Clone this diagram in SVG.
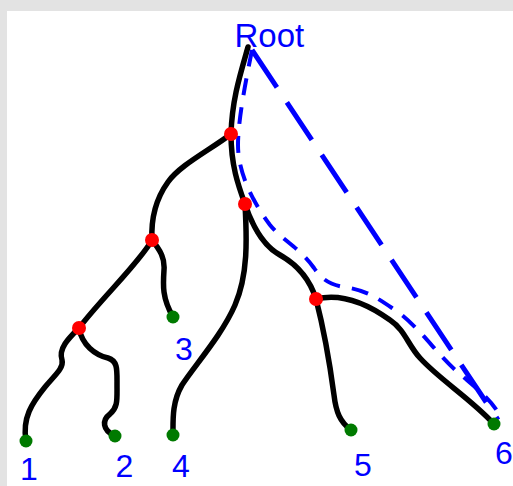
<svg xmlns="http://www.w3.org/2000/svg" width="513" height="486" viewBox="0 0 513 486">
<style>
.edge{fill:none;stroke:#000;stroke-width:5.5;stroke-linecap:round;stroke-linejoin:round}
.long{fill:none;stroke:#0000ff;stroke-width:5;stroke-dasharray:45 18}
.short{fill:none;stroke:#0000ff;stroke-width:4;stroke-dasharray:17 12}
.inner{fill:#ff0000}
.leaf{fill:#007a00}
.lbl{font-family:"Liberation Sans",Arial,sans-serif;font-size:32px;fill:#0000ff}
</style>
<rect x="0" y="0" width="513" height="486" fill="#e3e3e3"/>
<rect x="7" y="11" width="506" height="475" fill="#ffffff"/>
<g id="connectors">
<path class="edge" d="M248,47 C240,75 232,100 231,134"/>
<path class="edge" d="M231,134 C231,165 238,185 245,204"/>
<path class="edge" d="M231,134 C210,150 180,165 168,182 C155,200 151,220 152,240"/>
<path class="edge" d="M152,240 C160,250 165,258 164,270 C163,285 162,298 173,317"/>
<path class="edge" d="M152,240 C140,262 100,300 79,328"/>
<path class="edge" d="M79,328 C70,337 58,348 62,360 C64,368 55,375 45,387 C32,403 22,418 26,441"/>
<path class="edge" d="M79,328 C82,345 95,355 108,358 C118,361 117,370 117,385 C117,400 118,407 110,414 C102,420 102,430 115,436"/>
<path class="edge" d="M245,204 C247,240 248,275 235,305 C222,335 195,365 182,385 C172,402 173,420 173,435"/>
<path class="edge" d="M245,204 C252,225 262,245 280,255 C298,265 310,280 316,299"/>
<path class="edge" d="M316,299 C324,330 330,365 334,395 C336,412 340,422 351,430"/>
<path class="edge" d="M316,299 C340,293 365,302 390,320 C405,330 408,345 420,358 C440,380 470,398 494,424"/>
<path class="long" d="M252,50 L498,420"/>
<path class="short" d="M252,50 C246,80 238,120 238,145 C238,175 255,205 270,225 C282,240 300,248 314,268 C324,283 335,286 350,288 C370,292 380,300 398,312 C420,328 440,358 460,374 C476,388 492,400 500,416"/>
</g>
<g id="root"><text class="lbl" x="234.5" y="47" style="font-size:33px">Root</text></g>
<g id="nA"><circle class="inner" cx="231" cy="134" r="7"/></g>
<g id="nB"><circle class="inner" cx="245" cy="204" r="7"/></g>
<g id="nC"><circle class="inner" cx="152" cy="240" r="7"/></g>
<g id="nD"><circle class="inner" cx="79" cy="328" r="7"/></g>
<g id="nE"><circle class="inner" cx="316" cy="299" r="7"/></g>
<g id="leaf1"><circle class="leaf" cx="26" cy="441" r="6.5"/><text class="lbl" x="20" y="480">1</text></g>
<g id="leaf2"><circle class="leaf" cx="115" cy="436" r="6.5"/><text class="lbl" x="115.5" y="477">2</text></g>
<g id="leaf3"><circle class="leaf" cx="173" cy="317" r="6.5"/><text class="lbl" x="175" y="360">3</text></g>
<g id="leaf4"><circle class="leaf" cx="173" cy="435" r="6.5"/><text class="lbl" x="172" y="477">4</text></g>
<g id="leaf5"><circle class="leaf" cx="351" cy="430" r="6.5"/><text class="lbl" x="354" y="476">5</text></g>
<g id="leaf6"><circle class="leaf" cx="494" cy="424" r="6.5"/><text class="lbl" x="495" y="464">6</text></g>
</svg>
